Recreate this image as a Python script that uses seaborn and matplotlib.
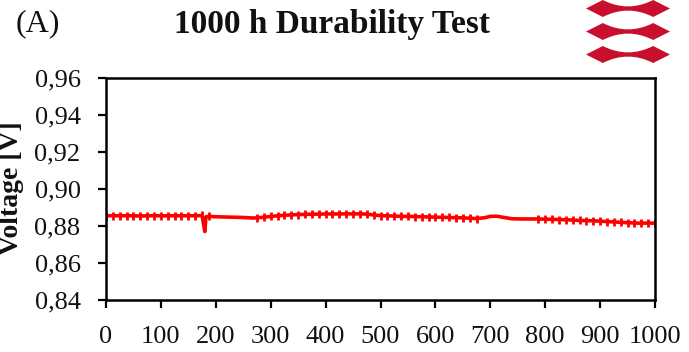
import matplotlib
matplotlib.use("Agg")
import matplotlib.pyplot as plt
import seaborn as sns
import numpy as np
import pandas as pd
from matplotlib.patches import PathPatch
from matplotlib.path import Path

# ---------------- data ----------------
hours = [0, 12.5, 25, 37.5, 50, 62.5, 75, 87.5, 100, 112.5, 125, 137.5, 150, 162.5, 175,
         180, 182, 187.5,
         200, 225, 250, 270,
         275, 287.5, 300, 312.5, 325, 337.5, 350, 362.5, 375, 387.5, 400, 412.5, 425,
         437.5, 450, 462.5, 475, 487.5, 500, 512.5, 525, 537.5, 550, 562.5, 575, 587.5,
         600, 612.5, 625, 637.5, 650, 662.5, 675,
         690, 700, 712, 725, 740, 760, 785,
         787.5, 800, 812.5, 825, 837.5, 850, 862.5, 875, 887.5, 900, 912.5, 925, 937.5,
         950, 962.5, 975, 987.5, 1000]
voltage = [0.8855, 0.8856, 0.8855, 0.8856, 0.8855, 0.8854, 0.8855, 0.8856, 0.8855, 0.8855, 0.8856, 0.8855, 0.8856, 0.8855, 0.8857,
           0.8770, 0.8850, 0.8852,
           0.8850, 0.8848, 0.8846, 0.8843,
           0.8845, 0.8847, 0.8852, 0.8855, 0.8858, 0.8860, 0.8862, 0.8863, 0.8864, 0.8864, 0.8865, 0.8865, 0.8865,
           0.8866, 0.8865, 0.8866, 0.8864, 0.8860, 0.8856, 0.8855, 0.8854, 0.8852, 0.8852, 0.8851, 0.8850, 0.8849,
           0.8848, 0.8847, 0.8846, 0.8845, 0.8844, 0.8842, 0.8840,
           0.8845, 0.8852, 0.8853, 0.8846, 0.8839, 0.8838, 0.8838,
           0.8838, 0.8837, 0.8836, 0.8835, 0.8834, 0.8832, 0.8830, 0.8829, 0.8828, 0.8826, 0.8824, 0.8822, 0.8820,
           0.8818, 0.8816, 0.8815, 0.8816, 0.8815]
logged = [True] * 15 + [False, False, True] + [False] * 4 + [True] * 33 + [False] * 7 + [True] * 18

y_ticks = [0.84, 0.86, 0.88, 0.90, 0.92, 0.94, 0.96]
x_ticks = [0, 100, 200, 300, 400, 500, 600, 700, 800, 900, 1000]

df = pd.DataFrame({"Time [h]": hours, "Voltage [V]": voltage})

# ---------------- figure ----------------
sns.set_theme(style="ticks")
plt.rcParams["font.family"] = ["Liberation Serif", "DejaVu Serif"]

fig = plt.figure(figsize=(6.89, 3.52), dpi=100)
ax = fig.add_axes([106 / 689, 1 - 300 / 352, (655 - 106) / 689, (300 - 78) / 352])

sns.lineplot(data=df, x="Time [h]", y="Voltage [V]", ax=ax, color="#ff0000",
             linewidth=2.6, marker="|", markersize=6, markeredgewidth=2.0,
             markeredgecolor="#ff0000",
             markevery=[i for i, m in enumerate(logged) if m])

ax.set_xlim(0, 1000)
ax.set_ylim(0.84, 0.96)
ax.set_xticks(x_ticks)
ax.set_xticklabels([str(t) for t in x_ticks])
ax.set_yticks(y_ticks)
ax.set_yticklabels([f"{t:.2f}".replace(".", ",") for t in y_ticks])
ax.tick_params(axis="both", labelsize=19, direction="out", length=5.8, width=1.6,
               colors="black", labelcolor="#111111")
ax.tick_params(axis="x", pad=13)
ax.tick_params(axis="y", pad=12.5)
for s in ax.spines.values():
    s.set_linewidth(1.8)
    s.set_color("black")
ax.set_xlabel("")
ax.set_ylabel("")

fig.text(12 / 689, 1 - 188 / 352, "Voltage [V]", rotation=90, ha="center", va="center",
         fontsize=20, fontweight="bold", color="#111111")
fig.text(332 / 689, 1 - 25 / 352, "1000 h Durability Test", ha="center", va="center",
         fontsize=24, fontweight="bold", color="#111111")
fig.text(38 / 689, 1 - 24 / 352, "(A)", ha="center", va="center",
         fontsize=23, color="#111111")

# logo (three pinched diamonds)
def bowtie(x0, y0, w, h):
    verts = [(x0, y0 + h / 2), (x0 + 0.2 * w, y0 + h),
             (x0 + 0.4 * w, y0 + 0.5 * h), (x0 + 0.6 * w, y0 + 0.5 * h), (x0 + 0.8 * w, y0 + h),
             (x0 + w, y0 + h / 2), (x0 + 0.8 * w, y0),
             (x0 + 0.6 * w, y0 + 0.5 * h), (x0 + 0.4 * w, y0 + 0.5 * h), (x0 + 0.2 * w, y0),
             (x0, y0 + h / 2)]
    codes = [Path.MOVETO, Path.LINETO, Path.CURVE4, Path.CURVE4, Path.CURVE4,
             Path.LINETO, Path.LINETO, Path.CURVE4, Path.CURVE4, Path.CURVE4, Path.CLOSEPOLY]
    return Path(verts, codes)

for top in (0, 23, 46):
    p = bowtie(586 / 689, 1 - (top + 17) / 352, 84 / 689, 17 / 352)
    fig.patches.append(PathPatch(p, transform=fig.transFigure, facecolor="#c8102e",
                                 edgecolor="none"))

fig.savefig("out.png", dpi=100)
